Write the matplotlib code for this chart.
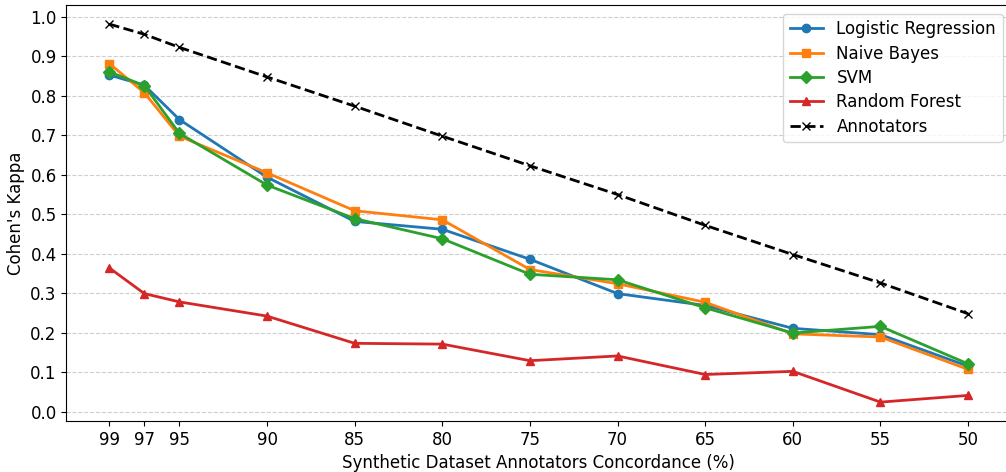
import matplotlib as ml
ml.use('Agg')
import numpy as np
import matplotlib.pyplot as plt

# Concordance levels (x axis, inverted)
concordance = [99, 97, 95, 90, 85, 80, 75, 70, 65, 60, 55, 50]

# Cohen's kappa per classifier
logreg = [0.853, 0.827, 0.740, 0.594, 0.482, 0.462, 0.386, 0.299, 0.269, 0.211, 0.195, 0.115]
naive_bayes = [0.882, 0.808, 0.698, 0.605, 0.509, 0.486, 0.360, 0.324, 0.277, 0.197, 0.189, 0.107]
svm = [0.861, 0.826, 0.705, 0.574, 0.489, 0.438, 0.348, 0.334, 0.263, 0.199, 0.216, 0.121]
random_forest = [0.364, 0.299, 0.278, 0.242, 0.173, 0.171, 0.129, 0.141, 0.094, 0.102, 0.024, 0.041]
annotators = [0.982, 0.956, 0.923, 0.848, 0.774, 0.698, 0.623, 0.550, 0.472, 0.398, 0.326, 0.248]

fig = plt.figure(figsize=(10.06, 4.72), dpi=100)
ax = fig.add_subplot(111)
# the original is cropped on the right, so the axes runs past the edge
fig.subplots_adjust(left=0.066, right=1.005, bottom=0.108, top=0.989)

ax.plot(concordance, logreg, marker='o', lw=2, ms=6, label='Logistic Regression')
ax.plot(concordance, naive_bayes, marker='s', lw=2, ms=6, label='Naive Bayes')
ax.plot(concordance, svm, marker='D', lw=2, ms=6, label='SVM')
ax.plot(concordance, random_forest, marker='^', lw=2, ms=6, label='Random Forest')
ax.plot(concordance, annotators, marker='x', ls='--', lw=2, ms=6, color='black', label='Annotators')

ax.set_xticks(concordance)
ax.set_yticks(np.arange(0, 1.01, 0.1))
ax.invert_xaxis()
ax.tick_params(axis='both', labelsize=12)
ax.grid(axis='y', ls='--', alpha=0.6)
ax.set_xlabel('Synthetic Dataset Annotators Concordance (%)', fontsize=12)
ax.set_ylabel("Cohen's Kappa", fontsize=12)
ax.legend(loc='upper right', fontsize=12, labelspacing=0.38)

fig.savefig('out.png', dpi=100)
